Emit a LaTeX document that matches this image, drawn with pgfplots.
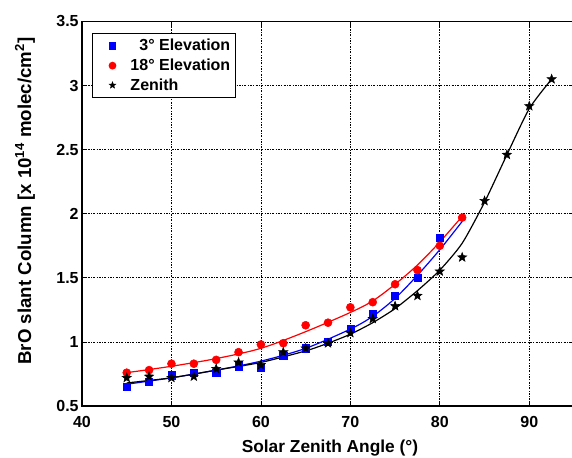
\documentclass[border=0pt]{standalone}
\usepackage{pgfplots}
\pgfplotsset{compat=1.18}
\usepackage{fontspec}
\setmainfont{Liberation Sans}
\definecolor{mblue}{RGB}{0,0,255}
\definecolor{mred}{RGB}{255,0,0}
\pgfdeclareplotmark{fstar}{%
  \pgfpathmoveto{\pgfpointpolar{90}{\pgfplotmarksize}}%
  \pgfpathlineto{\pgfpointpolar{126}{0.42*\pgfplotmarksize}}%
  \pgfpathlineto{\pgfpointpolar{162}{\pgfplotmarksize}}%
  \pgfpathlineto{\pgfpointpolar{198}{0.42*\pgfplotmarksize}}%
  \pgfpathlineto{\pgfpointpolar{234}{\pgfplotmarksize}}%
  \pgfpathlineto{\pgfpointpolar{270}{0.42*\pgfplotmarksize}}%
  \pgfpathlineto{\pgfpointpolar{306}{\pgfplotmarksize}}%
  \pgfpathlineto{\pgfpointpolar{342}{0.42*\pgfplotmarksize}}%
  \pgfpathlineto{\pgfpointpolar{18}{\pgfplotmarksize}}%
  \pgfpathlineto{\pgfpointpolar{54}{0.42*\pgfplotmarksize}}%
  \pgfpathclose
  \pgfusepathqfillstroke}
\begin{document}
\begin{tikzpicture}
\begin{axis}[
  scale only axis, width=369pt, height=288.4pt,
  xmin=40, xmax=95, ymin=0.5, ymax=3.5,
  xtick={40,50,60,70,80,90},
  ytick={0.5,1,1.5,2,2.5,3,3.5},
  minor tick num=0,
  tick align=inside, tick pos=both,
  major tick length=4pt,
  tick style={black, line width=0.6pt},
  axis line style={black, line width=0.8pt},
  grid=major,
  major grid style={black, line width=0.55pt, dash pattern=on 1.5pt off 1.1pt on 0.5pt off 1.1pt},
  /pgf/number format/assume math mode=true,
  ticklabel style={font=\bfseries\fontsize{12}{14}\selectfont},
  xticklabel style={yshift=-4pt},
  yticklabel style={xshift=1pt},
  label style={font=\bfseries\fontsize{13}{15}\selectfont},
  xlabel={Solar Zenith Angle (°)},
  xlabel style={at={(axis description cs:0.504,-0.109)}, anchor=center},
  ylabel={BrO slant Column [x 10\textsuperscript{14} molec/cm\textsuperscript{2}]},
  ylabel style={at={(axis description cs:-0.116,0.533)}, anchor=center, font=\bfseries\fontsize{14}{16}\selectfont},
  legend style={at={(0.0197,0.969)}, anchor=north west, draw=black, line width=0.8pt,
    font=\bfseries\fontsize{12}{14}\selectfont, row sep=0.5pt, inner sep=2pt},
  legend cell align=left,
  legend image code/.code={\path (0cm,0cm) (0.84cm,0cm); \draw[#1, mark size=2.5pt] plot coordinates {(0.45cm,0cm)};},
]
% data points
\addplot[only marks, mark=square*, mark size=2.7pt, color=mblue] coordinates {
(45,0.65) (47.5,0.69) (50,0.74) (52.5,0.76) (55,0.76) (57.5,0.81) (60,0.80)
(62.5,0.89) (65,0.95) (67.5,1.00) (70,1.10) (72.5,1.22) (75,1.36) (77.5,1.50) (80,1.81)};
\addlegendentry{\phantom{1}3° Elevation}
\addplot[only marks, mark=*, mark size=3pt, color=mred] coordinates {
(45,0.76) (47.5,0.78) (50,0.83) (52.5,0.83) (55,0.86) (57.5,0.92) (60,0.98)
(62.5,0.99) (65,1.13) (67.5,1.15) (70,1.27) (72.5,1.31) (75,1.45) (77.5,1.56) (80,1.75) (82.5,1.97)};
\addlegendentry{18° Elevation}
\addplot[only marks, mark=fstar, mark size=3.6pt, mark options={line width=0.4pt}, color=black] coordinates {
(45,0.72) (47.5,0.73) (50,0.72) (52.5,0.73) (55,0.79) (57.5,0.84) (60,0.82)
(62.5,0.92) (65,0.95) (67.5,0.99) (70,1.07) (72.5,1.18) (75,1.28) (77.5,1.36) (80,1.55)
(82.5,1.66) (85,2.10) (87.5,2.46) (90,2.84) (92.5,3.05)};
\addlegendentry{Zenith}
% fitted curves
\addplot[forget plot, smooth, no marks, color=mblue, line width=0.9pt] coordinates {
(45,0.67) (50,0.72) (55,0.78) (60,0.85) (65,0.95) (70,1.10) (72.5,1.20) (75,1.34) (77.5,1.52) (80,1.72) (82.5,1.94)};
\addplot[forget plot, smooth, no marks, color=mred, line width=0.9pt] coordinates {
(45,0.76) (50,0.81) (55,0.87) (60,0.95) (65,1.08) (70,1.23) (72.5,1.32) (75,1.45) (77.5,1.60) (80,1.78) (82.5,1.98)};
\addplot[forget plot, smooth, tension=0.4, no marks, color=black, line width=0.9pt] coordinates {
(45,0.68) (50,0.72) (55,0.78) (60,0.84) (65,0.93) (67.5,0.99) (70,1.06) (72.5,1.15) (75,1.26) (77.5,1.40) (80,1.56) (82.5,1.77) (85,2.09) (87.5,2.46) (90,2.82) (92.5,3.05)};
\end{axis}
\pgfresetboundingbox
\path ([shift={(-61.5pt,-38.25pt)}]current axis.south west) rectangle ([shift={(-1.5pt,16.1pt)}]current axis.north east);
\end{tikzpicture}
\end{document}
